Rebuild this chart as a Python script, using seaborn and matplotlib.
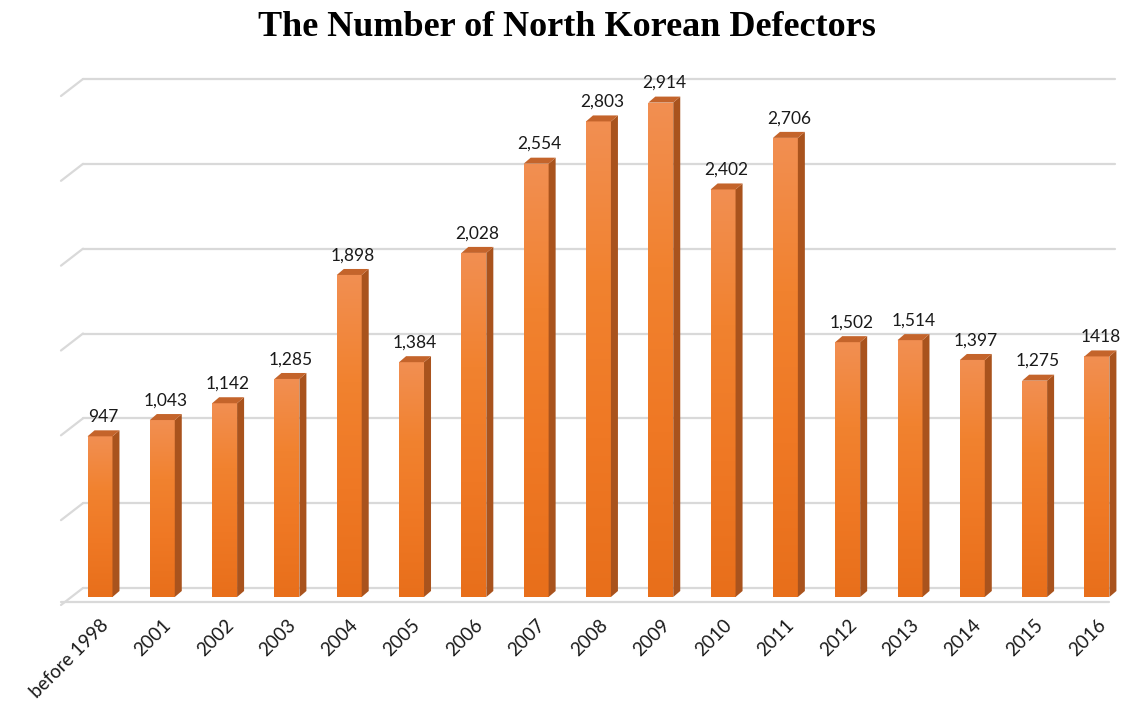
import numpy as np
import pandas as pd
import matplotlib
matplotlib.use("Agg")
import matplotlib.pyplot as plt
import seaborn as sns
from matplotlib.patches import Polygon
from matplotlib.colors import LinearSegmentedColormap

categories = ["before 1998", "2001", "2002", "2003", "2004", "2005", "2006", "2007",
              "2008", "2009", "2010", "2011", "2012", "2013", "2014", "2015", "2016"]
values = [947, 1043, 1142, 1285, 1898, 1384, 2028, 2554, 2803, 2914, 2402, 2706,
          1502, 1514, 1397, 1275, 1418]
value_labels = ["947", "1,043", "1,142", "1,285", "1,898", "1,384", "2,028", "2,554",
                "2,803", "2,914", "2,402", "2,706", "1,502", "1,514", "1,397", "1,275", "1418"]
grid_values = [0, 500, 1000, 1500, 2000, 2500, 3000]
title = "The Number of North Korean Defectors"

df = pd.DataFrame({"year": categories, "count": values})

sns.set_theme(style="white")
plt.rcParams["font.family"] = ["Lato", "DejaVu Sans"]

W, H = 1134, 709
fig = plt.figure(figsize=(W / 100, H / 100), dpi=100)
px_left, px_right = 61, 1120
px_bottom, px_top = 597, 88
ax = fig.add_axes([px_left / W, (H - px_bottom) / H,
                   (px_right - px_left) / W, (px_bottom - px_top) / H])

xlim = (-0.626, 16.37)
ylim = (0, 3000)
ax.set_xlim(*xlim)
ax.set_ylim(*ylim)
ppx = (px_right - px_left) / (xlim[1] - xlim[0])
ppy = (px_bottom - px_top) / (ylim[1] - ylim[0])

grid_col = "#D9D9D9"
back_dx = 22 / ppx
back_dy = 9 / ppy
front_dy = 8 / ppy
for g in grid_values:
    ax.plot([xlim[0] + back_dx, 16.29], [g + back_dy, g + back_dy],
            color=grid_col, lw=1.6, clip_on=False, zorder=0)
    ax.plot([xlim[0], xlim[0] + back_dx], [g - front_dy, g + back_dy],
            color=grid_col, lw=1.6, clip_on=False, zorder=0)
ax.plot([xlim[0], 16.2], [-5 / ppy, -5 / ppy], color=grid_col, lw=1.6,
        clip_on=False, zorder=0)

sns.barplot(data=df, x="year", y="count", width=0.4, color="#F07F30",
            ax=ax, zorder=3, saturation=1)
ax.set_xlim(*xlim)
ax.set_ylim(*ylim)

front_cmap = LinearSegmentedColormap.from_list(
    "front", ["#F28F52", "#F1822F", "#EF7824", "#E86F1B"])

dx = 7 / ppx
dy = 6 / ppy
grad = np.linspace(0, 1, 256).reshape(-1, 1)
for patch, lab in zip(ax.patches, value_labels):
    x0 = patch.get_x()
    w = patch.get_width()
    h = patch.get_height()
    patch.set_edgecolor("none")
    im = ax.imshow(grad, extent=(x0, x0 + w, 0, h), origin="upper", aspect="auto",
                   cmap=front_cmap, zorder=4, clip_on=True)
    im.set_clip_path(patch)
    side = Polygon([(x0 + w, 0), (x0 + w + dx, dy), (x0 + w + dx, h + dy), (x0 + w, h)],
                   closed=True, facecolor="#A9531D", edgecolor="none", zorder=4,
                   clip_on=False)
    ax.add_patch(side)
    top = Polygon([(x0, h), (x0 + dx, h + dy), (x0 + w + dx, h + dy), (x0 + w, h)],
                  closed=True, facecolor="#C4642B", edgecolor="none", zorder=5,
                  clip_on=False)
    ax.add_patch(top)
    ax.annotate(lab, (x0 + w / 2 + dx / 2, h + dy), xytext=(0, 4),
                textcoords="offset points", ha="center", va="bottom",
                fontsize=12.5, color="#1a1a1a", annotation_clip=False)

ax.set_xlabel("")
ax.set_ylabel("")
ax.set_yticks([])
ax.tick_params(axis="x", length=0, pad=14)
ax.set_xticks(range(len(categories)))
ax.set_xticklabels(categories, rotation=45, ha="right", rotation_mode="anchor",
                   fontsize=13.5, color="#1a1a1a")
for s in ax.spines.values():
    s.set_visible(False)

fig.text(0.5, 1 - 27 / H, title, ha="center", va="center", fontsize=26,
         fontweight="bold", family=["Liberation Serif", "DejaVu Serif"], color="black")

fig.savefig("out.png", dpi=100, facecolor="white")
